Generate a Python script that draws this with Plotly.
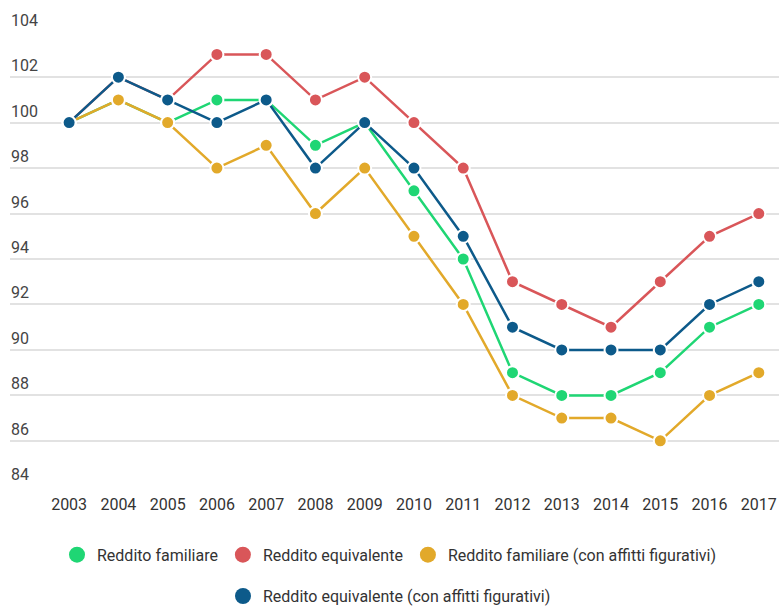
import plotly.graph_objects as go

years = list(range(2003, 2018))
reddito_familiare = [100, 101, 100, 101, 101, 99, 100, 97, 94, 89, 88, 88, 89, 91, 92]
reddito_equivalente = [100, 102, 101, 103, 103, 101, 102, 100, 98, 93, 92, 91, 93, 95, 96]
familiare_affitti = [100, 101, 100, 98, 99, 96, 98, 95, 92, 88, 87, 87, 86, 88, 89]
equivalente_affitti = [100, 102, 101, 100, 101, 98, 100, 98, 95, 91, 90, 90, 90, 92, 93]
y_ticks = list(range(84, 105, 2))

names = ["Reddito familiare", "Reddito equivalente",
         "Reddito familiare (con affitti figurativi)",
         "Reddito equivalente (con affitti figurativi)"]
colors = ["#1fd674", "#d95659", "#e2a92a", "#0d5a8a"]
series = [reddito_familiare, reddito_equivalente, familiare_affitti, equivalente_affitti]
legend_ids = ["legend", "legend", "legend", "legend2"]

fig = go.Figure()
for name, col, vals in zip(names, colors, series):
    fig.add_trace(go.Scatter(
        x=years, y=vals, mode="lines+markers", name=name, showlegend=False,
        line=dict(color=col, width=2.5),
        marker=dict(size=13, color=col, line=dict(color="white", width=2)),
        hoverinfo="x+y+name"))
for name, col, lg in zip(names, colors, legend_ids):
    fig.add_trace(go.Scatter(
        x=[None], y=[None], mode="markers", name=name, showlegend=True,
        legend=lg, marker=dict(size=19, color=col)))

for t in y_ticks:
    fig.add_annotation(x=0, xref="paper", y=t, yref="y", text=str(t),
                       showarrow=False, xanchor="left", yanchor="bottom",
                       xshift=-1, yshift=0,
                       font=dict(size=16, color="#444444", family="Roboto"))

fig.update_layout(
    width=779, height=607,
    margin=dict(l=10, r=0, t=31, b=120),
    paper_bgcolor="white", plot_bgcolor="white",
    font=dict(family="Roboto", color="#333333", size=16),
    xaxis=dict(range=[2001.8, 2017.41], tickmode="array", tickvals=years,
               ticktext=[str(y) for y in years], showgrid=False, zeroline=False,
               showline=False, ticks="", ticklabelstandoff=6,
               tickfont=dict(size=16, color="#333333")),
    yaxis=dict(range=[83.97, 104.03], tickmode="array", tickvals=y_ticks,
               showgrid=True, gridcolor="#e2e2e2", gridwidth=1.5, zeroline=False,
               showline=False, ticks="", showticklabels=False),
    legend=dict(orientation="h", x=0.5, xanchor="center", xref="container",
                y=0.114, yanchor="top", yref="container",
                font=dict(size=16, color="#333333"), itemsizing="trace"),
    legend2=dict(orientation="h", x=0.5, xanchor="center", xref="container",
                 y=0.046, yanchor="top", yref="container",
                 font=dict(size=16, color="#333333"), itemsizing="trace"),
    showlegend=True,
)
fig.write_html("out.html")
